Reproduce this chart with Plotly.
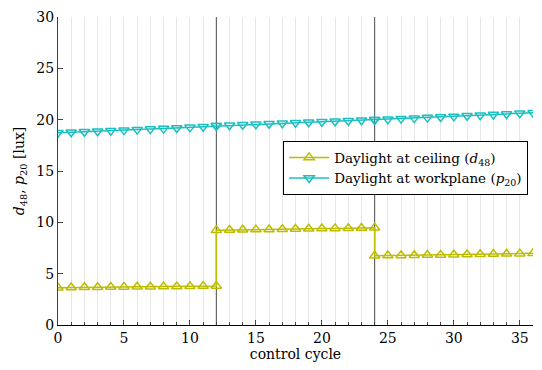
import plotly.graph_objects as go

# control cycle (duplicate points at the switching instants 12 and 24)
cycle = list(range(0, 13)) + list(range(12, 25)) + list(range(24, 37))

d48 = [3.62, 3.65, 3.67, 3.68, 3.70, 3.71, 3.72, 3.73, 3.74, 3.75, 3.77, 3.79, 3.80,
       9.22, 9.25, 9.27, 9.29, 9.31, 9.33, 9.35, 9.37, 9.39, 9.41, 9.43, 9.45, 9.48,
       6.74, 6.76, 6.78, 6.79, 6.81, 6.83, 6.85, 6.87, 6.89, 6.91, 6.93, 6.95, 6.98]

p20 = [18.72, 18.78, 18.83, 18.88, 18.93, 18.98, 19.03, 19.08, 19.13, 19.19, 19.25, 19.32, 19.40,
       19.40, 19.45, 19.50, 19.55, 19.60, 19.65, 19.70, 19.75, 19.80, 19.85, 19.90, 19.95, 20.00,
       20.00, 20.05, 20.10, 20.15, 20.20, 20.26, 20.32, 20.38, 20.44, 20.50, 20.56, 20.62, 20.68]

switch_cycles = [12, 24]
x_ticks = [0, 5, 10, 15, 20, 25, 30, 35]
y_ticks = [0, 5, 10, 15, 20, 25, 30]

FONT = "DejaVu Serif"
YEL = "#BDBD00"
CYA = "#1CBFBF"

fig = go.Figure()
fig.add_trace(go.Scatter(
    x=cycle, y=d48, mode="lines+markers",
    name="Daylight at ceiling (<i>d</i><sub>48</sub>)",
    line=dict(color=YEL, width=1.5),
    marker=dict(symbol="triangle-up-open", size=9, color=YEL, line=dict(width=1.5, color=YEL)),
))
fig.add_trace(go.Scatter(
    x=cycle, y=p20, mode="lines+markers",
    name="Daylight at workplane (<i>p</i><sub>20</sub>)",
    line=dict(color=CYA, width=1.5),
    marker=dict(symbol="triangle-down-open", size=9, color=CYA, line=dict(width=1.5, color=CYA)),
))

for xs in switch_cycles:
    fig.add_shape(type="line", x0=xs, x1=xs, y0=0, y1=30, xref="x", yref="y",
                  line=dict(color="#505050", width=1), layer="between")

fig.update_layout(
    width=542, height=370,
    margin=dict(l=58, r=9, t=13, b=45),
    paper_bgcolor="white", plot_bgcolor="white",
    font=dict(family=FONT, size=14, color="black"),
    showlegend=True,
    legend=dict(x=0.474, y=0.597, xanchor="left", yanchor="top",
                bordercolor="black", borderwidth=1, bgcolor="white",
                font=dict(family=FONT, size=13.5), tracegroupgap=0,
                itemwidth=40),
    xaxis=dict(range=[0, 36], tickvals=x_ticks, ticks="inside", ticklen=5,
               showline=True, linecolor="black", linewidth=1,
               showgrid=True, gridcolor="#E6E6E6", gridwidth=1,
               minor=dict(dtick=1, tick0=0, ticks="inside", ticklen=3, showgrid=True,
                          gridcolor="#E6E6E6", gridwidth=1),
               zeroline=False,
               title=dict(text="control cycle", font=dict(family=FONT, size=14), standoff=2),
               tickfont=dict(family=FONT, size=14)),
    yaxis=dict(range=[0, 30], tickvals=y_ticks, ticks="inside", ticklen=5,
               showline=True, linecolor="#404040", linewidth=1,
               showgrid=False, zeroline=False,
               title=dict(text="<i>d</i><sub>48</sub>, <i>p</i><sub>20</sub> [lux]",
                          font=dict(family=FONT, size=14), standoff=8),
               tickfont=dict(family=FONT, size=14)),
)

fig.write_html("out.html")
